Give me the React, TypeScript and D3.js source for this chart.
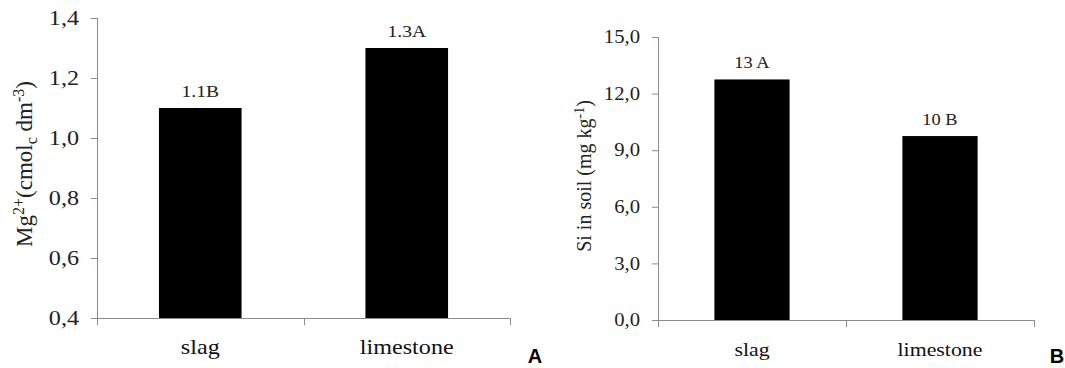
import { useEffect, useRef } from 'react';
import * as d3 from 'd3';

const categories = ['slag', 'limestone'];

// panel A: exchangeable Mg
const mgValues = [1.1, 1.3];
const mgLabels = ['1.1B', '1.3A'];
const mgTicks = [0.4, 0.6, 0.8, 1.0, 1.2, 1.4];

// panel B: Si in soil
const siValues = [12.75, 9.75];
const siLabels = ['13 A', '10 B'];
const siTicks = [0, 3, 6, 9, 12, 15];

const GRAY = '#8c8c8c';
const SERIF = 'Liberation Serif, Times New Roman, serif';
// the source figure was stretched sideways a little
const STRETCH = 1.15;

interface Panel {
  left: number;
  right: number;
  top: number;
  bottom: number;
  domain: [number, number];
  values: number[];
  labels: string[];
  ticks: number[];
  tickSize: number;
  catSize: number;
  valSize: number;
}

function drawPanel(g: d3.Selection<SVGGElement, unknown, null, undefined>, p: Panel) {
  const x = d3.scaleBand<string>().domain(categories).range([p.left, p.right]).paddingInner(0.6).paddingOuter(0.3);
  const y = d3.scaleLinear().domain(p.domain).range([p.bottom, p.top]);
  const bands = d3.scaleBand<string>().domain(categories).range([p.left, p.right]);

  // y axis
  const yAxis = g
    .append('g')
    .attr('transform', `translate(${p.left},0)`)
    .call(
      d3
        .axisLeft(y)
        .tickValues(p.ticks)
        .tickSize(6)
        .tickPadding(12)
        .tickFormat((d) => d3.format('.1f')(d as number).replace('.', ','))
    )
    .attr('font-family', SERIF)
    .attr('font-size', p.tickSize);
  yAxis.select('.domain').attr('stroke', GRAY).attr('d', `M0.5,${p.top}V${p.bottom}`);
  yAxis.selectAll('line').attr('stroke', GRAY);
  yAxis
    .selectAll('text')
    .attr('fill', '#222')
    .attr('x', 0)
    .attr('transform', `translate(-18,0) scale(${STRETCH},1)`);

  // x axis line with boundary ticks
  const xg = g.append('g').attr('font-family', SERIF).attr('font-size', p.catSize);
  xg.append('line')
    .attr('x1', p.left)
    .attr('x2', p.right)
    .attr('y1', p.bottom + 0.5)
    .attr('y2', p.bottom + 0.5)
    .attr('stroke', GRAY);
  const edges = [p.left, ...categories.map((c) => (bands(c) as number) + bands.bandwidth())];
  xg.selectAll('line.edge')
    .data(edges)
    .join('line')
    .attr('class', 'edge')
    .attr('x1', (d) => Math.round(d) + 0.5)
    .attr('x2', (d) => Math.round(d) + 0.5)
    .attr('y1', p.bottom)
    .attr('y2', p.bottom + 7)
    .attr('stroke', GRAY);
  xg.selectAll('text.cat')
    .data(categories)
    .join('text')
    .attr('class', 'cat')
    .attr(
      'transform',
      (d) => `translate(${(bands(d) as number) + bands.bandwidth() / 2},${p.bottom + 36}) scale(${STRETCH},1)`
    )
    .attr('text-anchor', 'middle')
    .attr('fill', '#111')
    .text((d) => d);

  // bars
  g.selectAll('rect.bar')
    .data(p.values)
    .join('rect')
    .attr('class', 'bar')
    .attr('x', (_, i) => x(categories[i]) as number)
    .attr('width', x.bandwidth())
    .attr('y', (d) => y(d))
    .attr('height', (d) => p.bottom - y(d))
    .attr('fill', '#000');

  g.append('g')
    .attr('font-family', SERIF)
    .attr('font-size', p.valSize)
    .selectAll('text.val')
    .data(p.values)
    .join('text')
    .attr('class', 'val')
    .attr(
      'transform',
      (d, i) => `translate(${(x(categories[i]) as number) + x.bandwidth() / 2},${y(d) - 11}) scale(${STRETCH},1)`
    )
    .attr('text-anchor', 'middle')
    .attr('fill', '#222')
    .text((_, i) => p.labels[i]);
}

export default function App() {
  const ref = useRef<SVGSVGElement>(null);

  useEffect(() => {
    const svg = d3.select(ref.current);
    svg.selectAll('*').remove();

    drawPanel(svg.append('g'), {
      left: 97,
      right: 510,
      top: 18,
      bottom: 318,
      domain: [0.4, 1.4],
      values: mgValues,
      labels: mgLabels,
      ticks: mgTicks,
      tickSize: 21,
      catSize: 21,
      valSize: 17,
    });

    drawPanel(svg.append('g'), {
      left: 658,
      right: 1034,
      top: 37,
      bottom: 320,
      domain: [0, 15],
      values: siValues,
      labels: siLabels,
      ticks: siTicks,
      tickSize: 18,
      catSize: 19,
      valSize: 16,
    });

    // y titles
    const t1 = svg
      .append('text')
      .attr('transform', 'translate(32,164) rotate(-90)')
      .attr('text-anchor', 'middle')
      .attr('font-family', SERIF)
      .attr('font-size', 23)
      .attr('fill', '#222');
    t1.append('tspan').text('Mg');
    t1.append('tspan').attr('dy', -8).attr('font-size', 16).text('2+');
    t1.append('tspan').attr('dy', 8).text('(cmol');
    t1.append('tspan').attr('dy', 5).attr('font-size', 16).text('c');
    t1.append('tspan').attr('dy', -5).text(' dm');
    t1.append('tspan').attr('dy', -8).attr('font-size', 16).text('-3');
    t1.append('tspan').attr('dy', 8).text(')');

    const t2 = svg
      .append('text')
      .attr('transform', 'translate(591,176) rotate(-90)')
      .attr('text-anchor', 'middle')
      .attr('font-family', SERIF)
      .attr('font-size', 20)
      .attr('fill', '#222');
    t2.append('tspan').text('Si in soil (mg kg');
    t2.append('tspan').attr('dy', -7).attr('font-size', 14).text('-1');
    t2.append('tspan').attr('dy', 7).text(')');

    // panel letters
    svg
      .selectAll('text.letter')
      .data([
        { t: 'A', x: 535 },
        { t: 'B', x: 1057 },
      ])
      .join('text')
      .attr('class', 'letter')
      .attr('x', (d) => d.x)
      .attr('y', 363)
      .attr('text-anchor', 'middle')
      .attr('font-family', 'Liberation Sans, Arial, sans-serif')
      .attr('font-weight', 'bold')
      .attr('font-size', 20)
      .attr('fill', '#000')
      .text((d) => d.t);
  }, []);

  return (
    <svg
      ref={ref}
      width={1065}
      height={368}
      style={{ position: 'absolute', left: 0, top: 0, background: '#fff' }}
    />
  );
}
